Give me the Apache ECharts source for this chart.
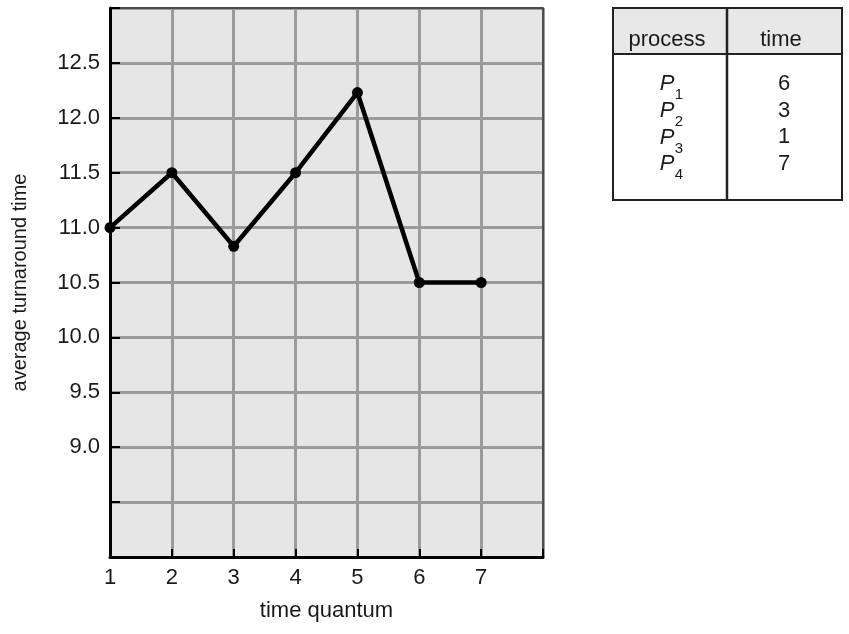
<!DOCTYPE html>
<html>
<head>
<meta charset="utf-8">
<style>
  html, body { margin: 0; padding: 0; background: #fff; }
  #chart { width: 849px; height: 634px; }
</style>
<script src="https://cdn.jsdelivr.net/npm/echarts@6/dist/echarts.min.js"></script>
</head>
<body>
<div id="chart"></div>
<script>
  // data
  let quantum = [1, 2, 3, 4, 5, 6, 7];
  let avgTurnaround = [11.0, 11.5, 10.83, 11.5, 12.23, 10.5, 10.5];
  let yTickLabels = ['9.0', '9.5', '10.0', '10.5', '11.0', '11.5', '12.0', '12.5'];
  let procNums = ['1', '2', '3', '4'];
  let procTimes = [6, 3, 1, 7];

  let font = "'Liberation Sans', Arial, Helvetica, sans-serif";
  let txt = '#1a1a1a';

  // table on the right, drawn with graphic elements
  let tbl = { left: 613, right: 842, top: 8, head: 54, bottom: 200, mid: 727 };
  let graphics = [
    { type: 'rect', shape: { x: tbl.left, y: tbl.top, width: tbl.right - tbl.left, height: tbl.head - tbl.top },
      style: { fill: '#e8e8e8' } },
    { type: 'rect', shape: { x: tbl.left, y: tbl.top, width: tbl.right - tbl.left, height: tbl.bottom - tbl.top },
      style: { fill: 'none', stroke: '#222', lineWidth: 2 } },
    { type: 'line', shape: { x1: tbl.left, y1: tbl.head, x2: tbl.right, y2: tbl.head },
      style: { stroke: '#222', lineWidth: 2 } },
    { type: 'line', shape: { x1: tbl.mid, y1: tbl.top, x2: tbl.mid, y2: tbl.bottom },
      style: { stroke: '#222', lineWidth: 2.5 } },
    { type: 'text', x: 667, y: 40,
      style: { text: 'process', fontSize: 22, fontFamily: font, fill: txt, align: 'center', verticalAlign: 'middle' } },
    { type: 'text', x: 781, y: 40,
      style: { text: 'time', fontSize: 22, fontFamily: font, fill: txt, align: 'center', verticalAlign: 'middle' } }
  ];
  procNums.forEach(function (n, i) {
    let y = 84 + i * 26.7;
    graphics.push({ type: 'text', x: 667, y: y,
      style: { text: 'P', fontSize: 22, fontStyle: 'italic', fontFamily: font, fill: txt, align: 'center', verticalAlign: 'middle' } });
    graphics.push({ type: 'text', x: 679, y: y + 11,
      style: { text: n, fontSize: 15, fontFamily: font, fill: txt, align: 'center', verticalAlign: 'middle' } });
    graphics.push({ type: 'text', x: 784, y: y,
      style: { text: String(procTimes[i]), fontSize: 22, fontFamily: font, fill: txt, align: 'center', verticalAlign: 'middle' } });
  });

  let chart = echarts.init(document.getElementById('chart'));
  let option = {
    animation: false,
    backgroundColor: '#fff',
    textStyle: { fontFamily: font },
    grid: {
      left: 110, top: 8, width: 433, height: 549,
      show: true,
      backgroundColor: '#e6e6e6',
      borderWidth: 0
    },
    xAxis: [{
      type: 'value',
      min: 1, max: 8, interval: 1,
      name: 'time quantum',
      nameLocation: 'middle',
      nameGap: 43,
      nameTextStyle: { fontSize: 22, color: txt, verticalAlign: 'top' },
      axisLine: { show: true, lineStyle: { color: '#000', width: 3 } },
      axisTick: { show: true, inside: true, length: 8, lineStyle: { color: '#000', width: 2 } },
      axisLabel: {
        fontSize: 22, color: txt, margin: 10,
        formatter: function (v) { return quantum.indexOf(v) >= 0 ? String(v) : ''; }
      },
      splitLine: { show: true, lineStyle: { color: '#9b9b9b', width: 3 } }
    }, {
      type: 'value', position: 'top',
      min: 1, max: 8, interval: 1,
      axisLine: { show: true, lineStyle: { color: '#333', width: 1.5 } },
      axisTick: { show: false }, axisLabel: { show: false }, splitLine: { show: false }
    }],
    yAxis: [{
      type: 'value',
      min: 8, max: 13, interval: 0.5,
      name: 'average turnaround time',
      nameLocation: 'middle',
      nameGap: 80,
      nameTextStyle: { fontSize: 20, color: txt },
      axisLine: { show: true, lineStyle: { color: '#000', width: 3 } },
      axisTick: { show: true, inside: true, length: 10, lineStyle: { color: '#000', width: 2 } },
      axisLabel: {
        fontSize: 22, color: txt, margin: 10,
        formatter: function (v) {
          let s = v.toFixed(1);
          return yTickLabels.indexOf(s) >= 0 ? s : '';
        }
      },
      splitLine: { show: true, lineStyle: { color: '#9b9b9b', width: 3 } }
    }, {
      type: 'value', position: 'right',
      min: 8, max: 13, interval: 0.5,
      axisLine: { show: true, lineStyle: { color: '#333', width: 1.5 } },
      axisTick: { show: false }, axisLabel: { show: false }, splitLine: { show: false }
    }],
    series: [{
      type: 'line',
      data: quantum.map(function (q, i) { return [q, avgTurnaround[i]]; }),
      symbol: 'circle',
      symbolSize: 11,
      clip: false,
      z: 10,
      lineStyle: { color: '#000', width: 4.5 },
      itemStyle: { color: '#000' }
    }],
    graphic: graphics
  };
  chart.setOption(option);
</script>
</body>
</html>
